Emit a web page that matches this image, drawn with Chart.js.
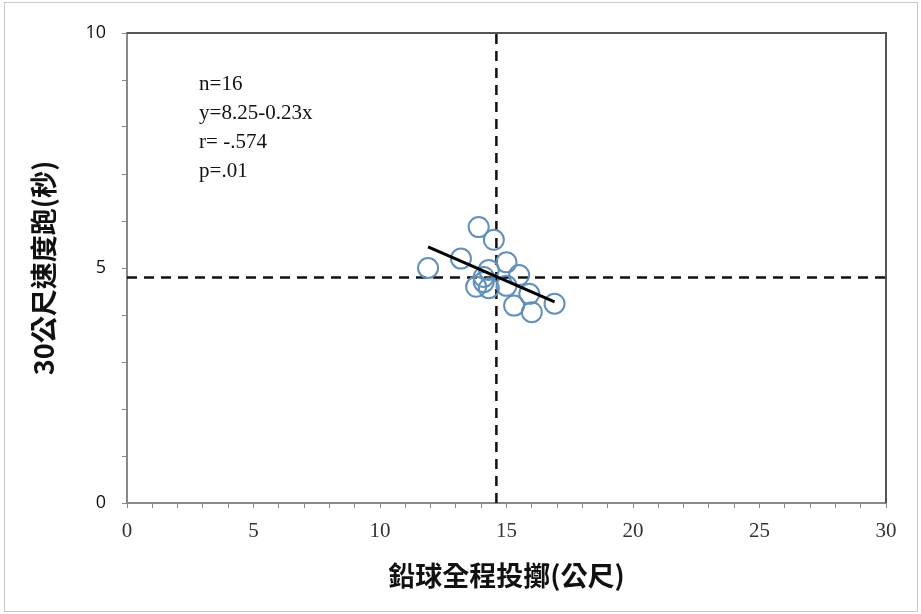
<!DOCTYPE html>
<html lang="zh-Hant">
<head>
    <meta charset="UTF-8">
    <title>鉛球全程投擲與30公尺速度跑</title>
    <script src="https://cdn.jsdelivr.net/npm/chart.js"></script>
    <style>
        html, body { margin: 0; padding: 0; background: #fff; }
        .chartbox { width: 921px; height: 614px; }
    </style>
</head>
<body>
<div class="chartbox">
    <canvas id="scatterChart" width="921" height="614"></canvas>
</div>
<script>
// throw distance (m) and 30 m sprint time (s)
var throwDist = [13.9, 14.5, 11.9, 13.2, 15.0, 14.3, 15.5, 14.1, 13.8, 14.3, 14.1, 15.0, 15.9, 15.3, 16.0, 16.9];
var sprintTime = [5.87, 5.60, 5.00, 5.20, 5.12, 4.96, 4.85, 4.81, 4.60, 4.57, 4.70, 4.62, 4.45, 4.20, 4.06, 4.24];

// regression line end points and the two mean lines
var fitX = [11.9, 16.9];
var fitY = [5.45, 4.28];
var meanX = 14.6;
var meanY = 4.8;

var xMin = 0, xMax = 30;
var yMin = 0, yMax = 10;

var statLines = ['n=16', 'y=8.25-0.23x', 'r= -.574', 'p=.01'];

function toPoints(xs, ys) {
    return xs.map(function (x, i) { return { x: x, y: ys[i] }; });
}

// frame on top/right of plot, outer border and the stats text
var framePlugin = {
    id: 'frame',
    afterDraw: function (chart) {
        var c = chart.ctx, a = chart.chartArea;
        c.save();
        c.strokeStyle = '#c8c8c8';
        c.lineWidth = 1;
        c.strokeRect(4.5, 2.5, 913, 609);
        c.strokeStyle = '#555';
        c.lineWidth = 2;
        c.beginPath();
        c.moveTo(a.left, a.top);
        c.lineTo(a.right, a.top);
        c.lineTo(a.right, a.bottom);
        c.stroke();
        c.fillStyle = '#111';
        c.font = '21px "Liberation Serif", "DejaVu Serif", serif';
        c.textBaseline = 'middle';
        var xs = chart.scales.x, ys = chart.scales.y;
        var tx = xs.getPixelForValue(2.85);
        statLines.forEach(function (t, i) {
            c.fillText(t, tx, ys.getPixelForValue(8.9) + i * 29);
        });
        c.restore();
    }
};

var ctx = document.getElementById('scatterChart').getContext('2d');
var chart = new Chart(ctx, {
    type: 'scatter',
    data: {
        datasets: [
            {
                label: 'mean x',
                type: 'line',
                data: toPoints([meanX, meanX], [yMin, yMax]),
                borderColor: '#111',
                borderWidth: 2.5,
                borderDash: [10, 7],
                pointRadius: 0,
                order: 3
            },
            {
                label: 'mean y',
                type: 'line',
                data: toPoints([xMin, xMax], [meanY, meanY]),
                borderColor: '#111',
                borderWidth: 2.5,
                borderDash: [10, 7],
                pointRadius: 0,
                order: 3
            },
            {
                label: 'data',
                data: toPoints(throwDist, sprintTime),
                pointStyle: 'circle',
                pointRadius: 10,
                pointBorderWidth: 2,
                pointBorderColor: '#6290ba',
                pointBackgroundColor: 'rgba(0,0,0,0)',
                order: 2
            },
            {
                label: 'fit',
                type: 'line',
                data: toPoints(fitX, fitY),
                borderColor: '#000',
                borderWidth: 3,
                pointRadius: 0,
                order: 1
            }
        ]
    },
    options: {
        responsive: false,
        animation: false,
        layout: { padding: { top: 33, right: 35, bottom: 0, left: 0 } },
        plugins: {
            legend: { display: false },
            tooltip: { enabled: false }
        },
        scales: {
            x: {
                type: 'linear',
                min: xMin,
                max: xMax,
                afterFit: function (s) { s.height = 111; },
                ticks: {
                    stepSize: 1,
                    autoSkip: false,
                    maxRotation: 0,
                    padding: 11,
                    color: '#333',
                    font: { family: '"Liberation Serif", serif', size: 21 },
                    callback: function (v) { return v % 5 === 0 ? v : ''; }
                },
                grid: { drawOnChartArea: false, tickLength: 5, color: '#888' },
                border: { color: '#888', width: 2 },
                title: {
                    display: true,
                    text: '鉛球全程投擲(公尺)',
                    color: '#111',
                    font: { family: '"Noto Sans CJK TC", sans-serif', size: 27, weight: 'bold' },
                    padding: { top: 0, bottom: 22 }
                }
            },
            y: {
                type: 'linear',
                min: yMin,
                max: yMax,
                afterFit: function (s) { s.width = 127; },
                ticks: {
                    stepSize: 1,
                    autoSkip: false,
                    padding: 16,
                    color: '#111',
                    font: { family: '"Open Sans", sans-serif', size: 18 },
                    callback: function (v) { return v % 5 === 0 ? v : ''; }
                },
                grid: { drawOnChartArea: false, tickLength: 5, color: '#888' },
                border: { color: '#888', width: 2 },
                title: {
                    display: true,
                    text: '30公尺速度跑(秒)',
                    color: '#111',
                    font: { family: '"Noto Sans CJK TC", sans-serif', size: 27, weight: 'bold' },
                    padding: { top: 28, bottom: 0 }
                }
            }
        }
    },
    plugins: [framePlugin]
});
</script>
</body>
</html>
